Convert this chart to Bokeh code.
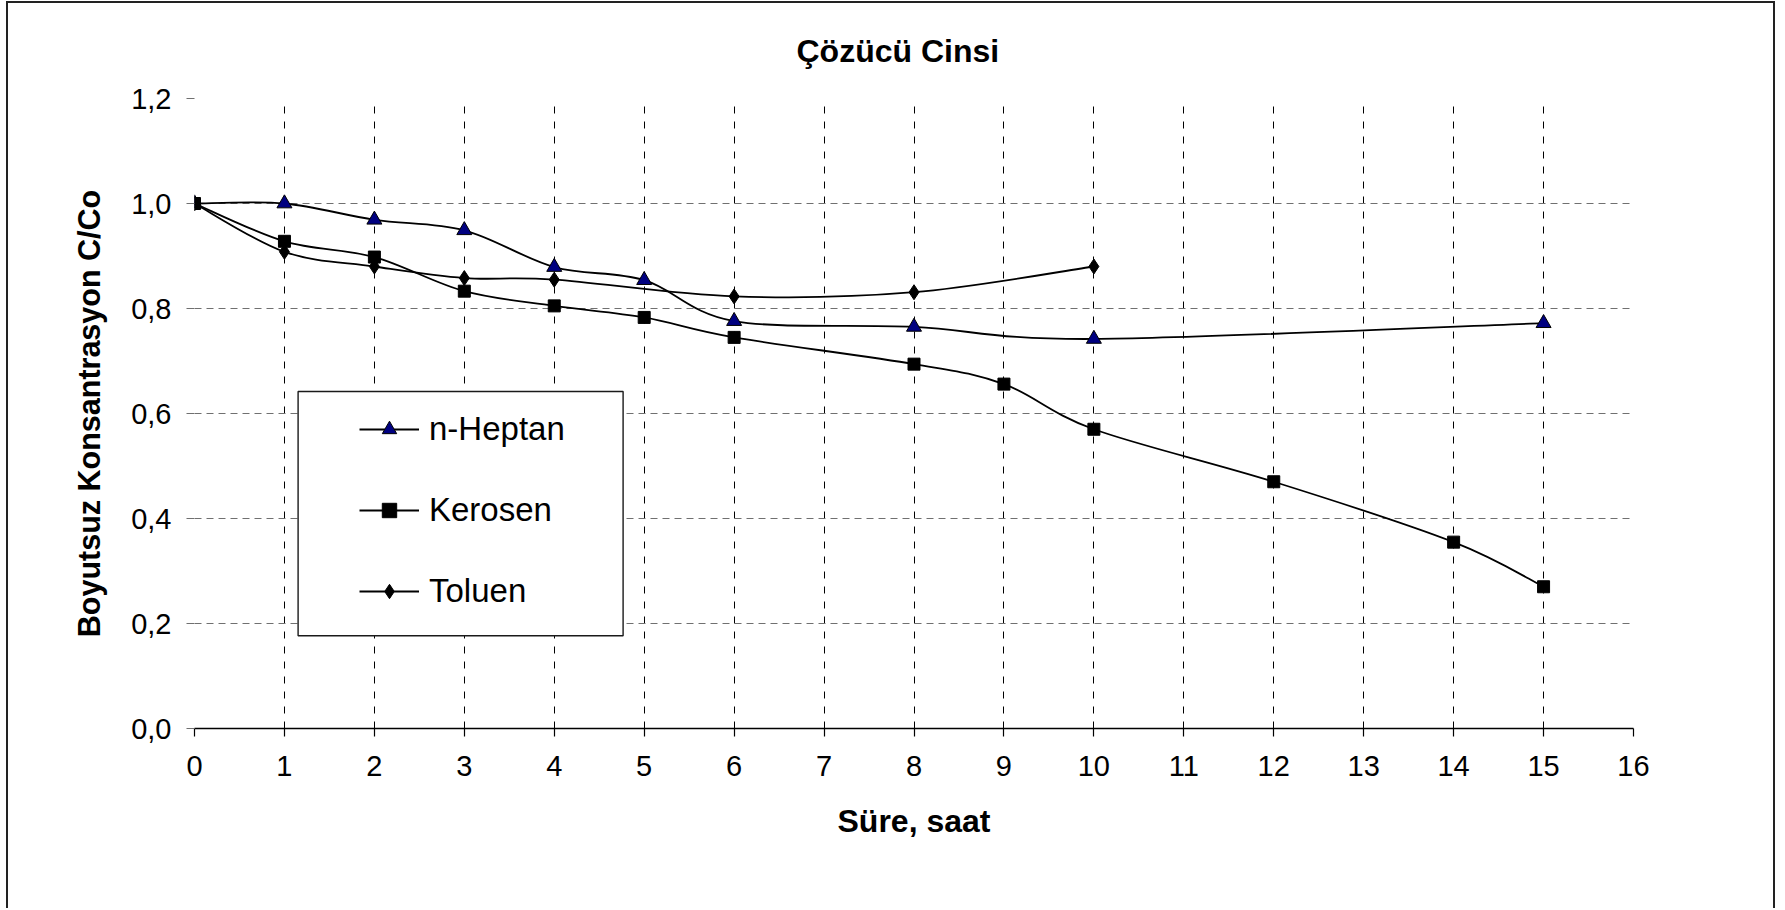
import numpy as np
from bokeh.plotting import figure
from bokeh.models import Range1d, FixedTicker, Legend, LegendItem, BoxAnnotation
from bokeh.embed import file_html
from bokeh.resources import INLINE

# Dimensionless concentration C/Co versus time (hours) for three solvents
time_heptan = [0, 1, 2, 3, 4, 5, 6, 8, 10, 15]
c_heptan = [1.000, 1.000, 0.969, 0.949, 0.879, 0.854, 0.776, 0.765, 0.742, 0.772]

time_kerosen = [0, 1, 2, 3, 4, 5, 6, 8, 9, 10, 12, 14, 15]
c_kerosen = [1.000, 0.928, 0.898, 0.833, 0.805, 0.783, 0.745, 0.694, 0.656, 0.570, 0.470, 0.355, 0.270]

time_toluen = [0, 1, 2, 3, 4, 6, 8, 10]
c_toluen = [1.000, 0.908, 0.880, 0.858, 0.855, 0.823, 0.831, 0.880]

series_names = ["n-Heptan", "Kerosen", "Toluen"]
chart_title = "Çözücü Cinsi"

x_ticks = list(range(0, 17))
y_ticks = [0.0, 0.2, 0.4, 0.6, 0.8, 1.0, 1.2]
y_tick_labels = ["0,0", "0,2", "0,4", "0,6", "0,8", "1,0", "1,2"]

FONT = "Liberation Sans"


def smooth_segments(xs, ys):
    """Cubic Bezier pieces of a Catmull-Rom style smoothed line through the points."""
    x = np.asarray(xs, dtype=float)
    y = np.asarray(ys, dtype=float)
    n = len(x)
    xp = np.concatenate([[x[0]], x, [x[-1]]])
    yp = np.concatenate([[y[0]], y, [y[-1]]])
    return dict(
        x0=xp[1:n], y0=yp[1:n],
        x1=xp[2:n + 1], y1=yp[2:n + 1],
        cx0=xp[1:n] + (xp[2:n + 1] - xp[0:n - 1]) / 6.0,
        cy0=yp[1:n] + (yp[2:n + 1] - yp[0:n - 1]) / 6.0,
        cx1=xp[2:n + 1] - (xp[3:n + 2] - xp[1:n]) / 6.0,
        cy1=yp[2:n + 1] - (yp[3:n + 2] - yp[1:n]) / 6.0,
    )


p = figure(
    width=1769, height=907,
    x_range=Range1d(0, 16), y_range=Range1d(0, 1.2),
    output_backend="svg", toolbar_location=None,
    min_border_left=186, min_border_right=144,
    min_border_top=95, min_border_bottom=182,
    background_fill_color="white", border_fill_color="white",
)
p.margin = (1, 0, 0, 6)
p.styles = {
    "border-top": "2px solid #222222",
    "border-left": "2px solid #222222",
    "border-right": "2px solid #222222",
}
p.outline_line_color = None

# title
p.title.text = chart_title
p.title.align = "left"
p.title.vertical_align = "top"
p.title.offset = 602
p.title.standoff = 56
p.title.text_font = FONT
p.title.text_font_size = "32px"
p.title.text_font_style = "bold"
p.title.text_color = "black"

# grid
p.xgrid.ticker = FixedTicker(ticks=x_ticks)
p.ygrid.ticker = FixedTicker(ticks=y_ticks)
p.xgrid.grid_line_color = "black"
p.xgrid.grid_line_dash = "7 8"
p.xgrid.grid_line_width = 1
p.ygrid.grid_line_color = "#707070"
p.ygrid.grid_line_dash = "7 5"
p.ygrid.grid_line_width = 1.2

# x axis
xa = p.xaxis[0]
xa.ticker = FixedTicker(ticks=x_ticks)
xa.axis_line_color = "black"
xa.axis_line_width = 1.4
xa.major_tick_line_color = "black"
xa.major_tick_line_width = 1.2
xa.major_tick_out = 8
xa.major_tick_in = 0
xa.minor_tick_line_color = None
xa.major_label_text_font = FONT
xa.major_label_text_font_size = "29px"
xa.major_label_text_color = "black"
xa.major_label_standoff = 19
xa.axis_label = "Süre, saat"
xa.axis_label_text_font = FONT
xa.axis_label_text_font_size = "32px"
xa.axis_label_text_font_style = "bold"
xa.axis_label_text_color = "black"
xa.axis_label_standoff = 24

# y axis
ya = p.yaxis[0]
ya.ticker = FixedTicker(ticks=y_ticks)
ya.major_label_overrides = dict(zip(y_ticks, y_tick_labels))
ya.axis_line_color = None
ya.major_tick_line_color = "#707070"
ya.major_tick_line_width = 1.2
ya.major_tick_out = 8
ya.major_tick_in = 0
ya.minor_tick_line_color = None
ya.major_label_text_font = FONT
ya.major_label_text_font_size = "29px"
ya.major_label_text_color = "black"
ya.major_label_standoff = 15
ya.axis_label = "Boyutsuz Konsantrasyon C/Co"
ya.axis_label_text_font = FONT
ya.axis_label_text_font_size = "30.5px"
ya.axis_label_text_font_style = "bold"
ya.axis_label_text_color = "black"
ya.axis_label_standoff = 22

LINE_W = 1.8

# smoothed curves
r_hep_line = p.bezier(line_color="black", line_width=LINE_W, **smooth_segments(time_heptan, c_heptan))
r_tol_line = p.bezier(line_color="black", line_width=LINE_W, **smooth_segments(time_toluen, c_toluen))
r_ker_line = p.bezier(line_color="black", line_width=LINE_W, **smooth_segments(time_kerosen, c_kerosen))

# markers
r_hep_pts = p.scatter(time_heptan, c_heptan, marker="triangle", size=15,
                      fill_color="#000080", line_color="black", line_width=1)
r_tol_pts = p.scatter(time_toluen, c_toluen, marker="diamond", size=15,
                      fill_color="black", line_color="black", line_width=1)
r_ker_pts = p.scatter(time_kerosen, c_kerosen, marker="square", size=12,
                      fill_color="black", line_color="black", line_width=1)

# legend frame
legend_box = BoxAnnotation(left=103.6, right=428.6, bottom=92.7, top=337,
                           left_units="screen", right_units="screen",
                           bottom_units="screen", top_units="screen",
                           fill_color="white", fill_alpha=1.0,
                           line_color="#1a1a1a", line_alpha=1.0, line_width=1.4)
p.add_layout(legend_box)

legend = Legend(
    items=[
        LegendItem(label=series_names[0], renderers=[r_hep_line, r_hep_pts]),
        LegendItem(label=series_names[1], renderers=[r_ker_line, r_ker_pts]),
        LegendItem(label=series_names[2], renderers=[r_tol_line, r_tol_pts]),
    ],
    location=(165, 118),
    orientation="vertical",
    glyph_width=60, glyph_height=36, label_height=36,
    label_standoff=10, spacing=43, padding=0, margin=0,
    border_line_color=None, background_fill_alpha=0.0,
    label_text_font=FONT, label_text_font_size="33px", label_text_color="black",
)
p.add_layout(legend)

open("out.html", "w").write(file_html(p, INLINE))
